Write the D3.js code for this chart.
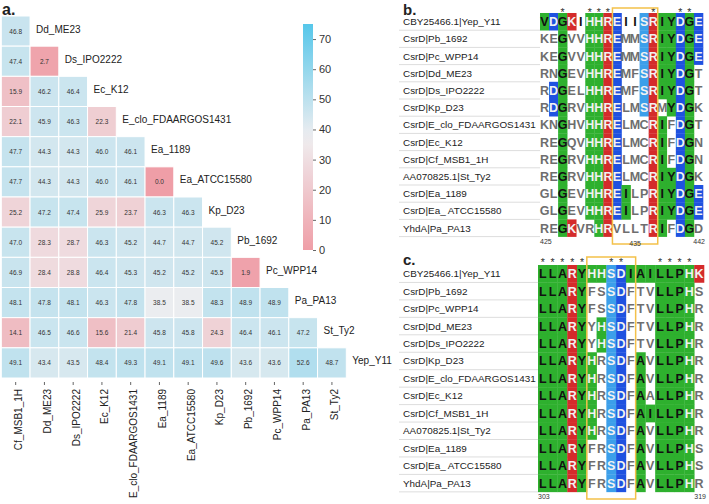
<!DOCTYPE html>
<html>
<head>
<meta charset="utf-8">
<script src="https://cdn.jsdelivr.net/npm/d3@7"></script>
<style>
  body { margin: 0; background: #fff; }
  svg { font-family: "Liberation Sans", Arial, sans-serif; display: block; }
</style>
</head>
<body>
<div id="chart"></div>
<script>
// ---- data ----
// heatmap: lower triangle, row i has i+1 values
const heatCols = ["Cf_MSB1_1H", "Dd_ME23", "Ds_IPO2222", "Ec_K12", "E_clo_FDAARGOS1431",
  "Ea_1189", "Ea_ATCC15580", "Kp_D23", "Pb_1692", "Pc_WPP14", "Pa_PA13", "St_Ty2"];
const heatRows = ["Dd_ME23", "Ds_IPO2222", "Ec_K12", "E_clo_FDAARGOS1431", "Ea_1189",
  "Ea_ATCC15580", "Kp_D23", "Pb_1692", "Pc_WPP14", "Pa_PA13", "St_Ty2", "Yep_Y11"];
const heatValues = [
  [46.8],
  [47.4, 2.7],
  [15.9, 46.2, 46.4],
  [22.1, 45.9, 46.3, 22.3],
  [47.7, 44.3, 44.3, 46.0, 46.1],
  [47.7, 44.3, 44.3, 46.0, 46.1, 0.0],
  [25.2, 47.2, 47.4, 25.9, 23.7, 46.3, 46.3],
  [47.0, 28.3, 28.7, 46.3, 45.2, 44.7, 44.7, 45.2],
  [46.9, 28.4, 28.8, 46.4, 45.3, 45.2, 45.2, 45.5, 1.9],
  [48.1, 47.8, 48.1, 46.3, 47.8, 38.5, 38.5, 48.3, 48.9, 48.9],
  [14.1, 46.5, 46.6, 15.6, 21.4, 45.8, 45.8, 24.3, 46.4, 46.1, 47.2],
  [49.1, 43.4, 43.5, 48.4, 49.3, 49.1, 49.1, 49.6, 43.6, 43.6, 52.6, 48.7]
];
const colorTicks = [0, 10, 20, 30, 40, 50, 60, 70];

// alignments: uppercase = highlighted residue, lowercase = plain
const seqNames = ["CBY25466.1|Yep_Y11", "CsrD|Pb_1692", "CsrD|Pc_WPP14", "CsrD|Dd_ME23",
  "CsrD|Ds_IPO2222", "CsrD|Kp_D23", "CsrD|E_clo_FDAARGOS1431", "CsrD|Ec_K12",
  "CsrD|Cf_MSB1_1H", "AA070825.1|St_Ty2", "CsrD|Ea_1189", "CsrD|Ea_ ATCC15580", "YhdA|Pa_PA13"];
const seqsB = [
  "VDGKiHHREiiSRIYDGE",
  "keGvvHHREmmSRIYDGE",
  "keGvvHHREmmSRIYDGE",
  "rnGevHHREmfSRIYDGt",
  "rDGelHHREmfSRIYDGt",
  "rDGrvHHRElmSRmYDGk",
  "knGhvHHRElmcRIfDGt",
  "reGqvHHRElmcRIfDGn",
  "reGrvHHRElmcRIfDGn",
  "reGrvHHRElmcRIYDGk",
  "glGevHHREIlpRIYDGE",
  "glGevHHREIlpRIYDGE",
  "reGKvrHRvlltRIfDGd"
];
const starsB = [2, 5, 6, 7, 12, 15, 16];
const boxB = [8, 12];
const posB = [425, 435, 442];

const seqsC = [
  "LLARYHHSDIAILLPHK",
  "LLARYfsSDftvLLPHs",
  "LLARYfsSDftvLLPHr",
  "LLARYyHSDftvLLPHr",
  "LLARYyHSDftvLLPHr",
  "LLARYHrSDfAvLLPHr",
  "LLARYHrSDfAvLLPHr",
  "LLARYHrSDfAaLLPHr",
  "LLARYHrSDfAILLPHr",
  "LLARYHrSDfAvLLPHr",
  "LLARYfrSDfAvLLPHs",
  "LLARYfrSDfAvLLPHs",
  "LLARYfrSDfAvLLPHr"
];
const starsC = [0, 1, 2, 3, 4, 7, 8, 12, 13, 14, 15];
const boxC = [5, 9];
const posC = [303, 319];

// ---- svg ----
const [W, H] = [709, 504];
const svg = d3.select("#chart").append("svg").attr("width", W).attr("height", H);

// ---- panel a: heatmap ----
const x = d3.scaleBand().domain(heatCols).range([1.3, 346.3]);
const y = d3.scaleBand().domain(heatRows).range([16, 378]);
const color = d3.scaleLinear().domain([0, 37.5, 75])
  .range(["#ef9ea7", "#efeef0", "#56c7ea"]).clamp(true);

const cells = [];
heatValues.forEach((row, i) => row.forEach((v, j) => cells.push({ r: heatRows[i], c: heatCols[j], v })));

const ga = svg.append("g");
ga.selectAll("rect.cell").data(cells).join("rect")
  .attr("class", "cell")
  .attr("x", d => x(d.c))
  .attr("y", d => y(d.r))
  .attr("width", x.bandwidth())
  .attr("height", y.bandwidth())
  .attr("fill", d => color(d.v))
  .attr("stroke", "#fff")
  .attr("stroke-width", 1);

ga.selectAll("text.val").data(cells).join("text")
  .attr("class", "val")
  .attr("x", d => x(d.c) + x.bandwidth() / 2)
  .attr("y", d => y(d.r) + y.bandwidth() / 2)
  .attr("text-anchor", "middle")
  .attr("dominant-baseline", "central")
  .attr("font-size", 6.5)
  .attr("fill", "#333")
  .text(d => d.v.toFixed(1));

// row labels next to the diagonal
ga.selectAll("text.rlab").data(heatRows).join("text")
  .attr("class", "rlab")
  .attr("x", (d, i) => x(heatCols[i]) + x.bandwidth() + 6)
  .attr("y", d => y(d) + y.bandwidth() / 2 - 2)
  .attr("dominant-baseline", "central")
  .attr("font-size", 10)
  .attr("fill", "#222")
  .text(d => d);

// x axis
const xAxis = ga.append("g")
  .attr("transform", "translate(0,382)")
  .call(d3.axisBottom(x).tickSize(3).tickSizeOuter(0));
xAxis.select(".domain").remove();
xAxis.selectAll(".tick line").attr("stroke", "#666");
xAxis.selectAll(".tick text")
  .attr("transform", "rotate(-90)")
  .attr("text-anchor", "end")
  .attr("x", -7)
  .attr("y", 3)
  .attr("dy", "0.35em")
  .attr("font-size", 10)
  .attr("font-family", "Liberation Sans, Arial, sans-serif")
  .attr("fill", "#222");

// colorbar
const cb = d3.scaleLinear().domain([0, 75]).range([250, 24]);
const defs = svg.append("defs");
const grad = defs.append("linearGradient").attr("id", "cbgrad")
  .attr("x1", 0).attr("y1", 1).attr("x2", 0).attr("y2", 0);
d3.range(0, 76, 5).forEach(v => grad.append("stop")
  .attr("offset", v / 75).attr("stop-color", color(v)));
svg.append("rect").attr("x", 303).attr("y", cb(75)).attr("width", 10)
  .attr("height", cb(0) - cb(75)).attr("fill", "url(#cbgrad)");
const cbAxis = svg.append("g").attr("transform", "translate(313,0)")
  .call(d3.axisRight(cb).tickValues(colorTicks).tickSize(3));
cbAxis.select(".domain").remove();
cbAxis.selectAll(".tick line").attr("stroke", "#666");
cbAxis.selectAll(".tick text").attr("font-size", 11).attr("fill", "#333")
  .attr("font-family", "Liberation Sans, Arial, sans-serif");

svg.append("text").attr("x", 2).attr("y", 15).attr("font-size", 16)
  .attr("font-weight", "bold").attr("fill", "#222").text("a.");

// ---- panels b, c: alignments ----
const resColor = r => {
  if ("RK".includes(r)) return "#d42b2b";
  if ("DE".includes(r)) return "#1f52e0";
  if ("ST".includes(r)) return "#3c9fea";
  return "#2eb02e";
};
const lightText = "HRKDES";

function drawAlignment(opt) {
  const g = svg.append("g");
  const rows = d3.range(opt.seqs.length);
  const nCols = opt.seqs[0].length;
  const ry = d3.scaleBand().domain(rows).range([opt.top, opt.top + opt.rowH * rows.length]);
  const cx = d3.scaleBand().domain(d3.range(nCols)).range([opt.left, opt.right]);
  const bottom = opt.top + opt.rowH * rows.length;

  g.append("text").attr("x", 403).attr("y", opt.titleY).attr("font-size", 15)
    .attr("font-weight", "bold").attr("fill", "#222").text(opt.title);

  // names and separators
  g.selectAll("line.sep").data(rows).join("line")
    .attr("x1", 399).attr("x2", opt.left)
    .attr("y1", d => ry(d) + ry.bandwidth()).attr("y2", d => ry(d) + ry.bandwidth())
    .attr("stroke", "#ddd").attr("stroke-width", 1);
  g.selectAll("text.name").data(opt.names).join("text")
    .attr("x", 403)
    .attr("y", (d, i) => ry(i) + ry.bandwidth() / 2)
    .attr("dominant-baseline", "central")
    .attr("font-size", 9.9).attr("fill", "#222")
    .text(d => d);

  const res = [];
  opt.seqs.forEach((s, i) => s.split("").forEach((ch, j) => res.push({
    i, j, ch: ch.toUpperCase(), hi: ch === ch.toUpperCase()
  })));

  g.selectAll("rect.res").data(res.filter(d => d.hi)).join("rect")
    .attr("x", d => cx(d.j)).attr("y", d => ry(d.i))
    .attr("width", cx.bandwidth() + 0.3).attr("height", ry.bandwidth() + 0.3)
    .attr("fill", d => resColor(d.ch));

  g.selectAll("text.res").data(res).join("text")
    .attr("x", d => cx(d.j) + cx.bandwidth() / 2)
    .attr("y", d => ry(d.i) + ry.bandwidth() / 2 + 0.5)
    .attr("text-anchor", "middle")
    .attr("dominant-baseline", "central")
    .attr("font-size", 12.5).attr("font-weight", "bold")
    .attr("fill", d => d.hi ? (lightText.includes(d.ch) ? "#f2f2f2" : "#111")
      : (d.i === 0 ? "#111" : "#6e6e6e"))
    .text(d => d.ch);

  // conservation stars
  g.selectAll("text.star").data(opt.stars).join("text")
    .attr("x", d => cx(d) + cx.bandwidth() / 2)
    .attr("y", opt.starY)
    .attr("text-anchor", "middle")
    .attr("font-size", 10.5).attr("fill", "#333")
    .text("*");

  // highlight box
  g.append("rect")
    .attr("x", cx(opt.box[0])).attr("y", opt.boxY[0])
    .attr("width", cx(opt.box[1]) + cx.bandwidth() - cx(opt.box[0]))
    .attr("height", opt.boxY[1] - opt.boxY[0])
    .attr("fill", "none").attr("stroke", "#f3c14a").attr("stroke-width", 1.5);

  // position numbers
  g.selectAll("text.pos").data(opt.pos).join("text")
    .attr("x", d => {
      const j = d - opt.pos[0];
      if (j === 0) return cx(0);
      if (j === nCols - 1) return opt.right + 2;
      return cx(j) + cx.bandwidth() / 2;
    })
    .attr("y", (d, k) => bottom + (k === 0 || k === opt.pos.length - 1 ? 7 : 9))
    .attr("text-anchor", d => {
      const j = d - opt.pos[0];
      return j === 0 ? "start" : (j === nCols - 1 ? "end" : "middle");
    })
    .attr("font-size", 7).attr("fill", "#333")
    .text(d => d);
}

drawAlignment({ title: "b.", titleY: 15, names: seqNames, seqs: seqsB, stars: starsB, box: boxB,
  pos: posB, top: 13, rowH: 17.2, left: 540, right: 703, starY: 16, boxY: [8, 244] });
drawAlignment({ title: "c.", titleY: 265, names: seqNames, seqs: seqsC, stars: starsC, box: boxC,
  pos: posC, top: 265, rowH: 17.45, left: 538, right: 704, starY: 265.5, boxY: [257, 499] });
</script>
</body>
</html>
